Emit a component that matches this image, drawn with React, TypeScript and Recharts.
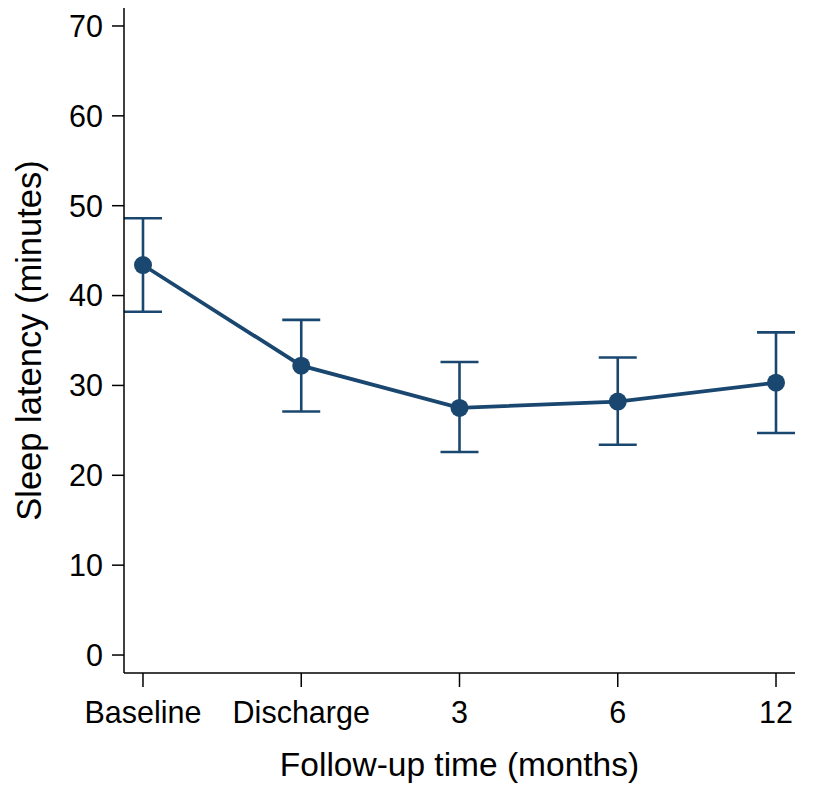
import { LineChart, Line, XAxis, YAxis, ErrorBar, Label } from 'recharts';

const timepoints = ['Baseline', 'Discharge', '3', '6', '12'];
const meanLatency = [43.4, 32.2, 27.5, 28.2, 30.3];
const upperCI = [48.6, 37.3, 32.6, 33.1, 35.9];
const lowerCI = [38.2, 27.1, 22.6, 23.4, 24.7];
const yTicks = [0, 10, 20, 30, 40, 50, 60, 70];

const NAVY = '#1a476f';
const FONT = '"Liberation Sans", Arial, sans-serif';

const data = timepoints.map((t, i) => ({
    idx: i,
    label: t,
    mean: meanLatency[i],
    err: [meanLatency[i] - lowerCI[i], upperCI[i] - meanLatency[i]]
}));

export default function App() {
    return (
        <div style={{ position: 'absolute', left: 0, top: 0, fontFamily: FONT }}>
            <LineChart
                width={827}
                height={792}
                data={data}
                margin={{ top: 8, right: 32, bottom: 59, left: 0 }}
            >
                <XAxis
                    dataKey="idx"
                    type="number"
                    domain={[-0.12, 4.12]}
                    ticks={[0, 1, 2, 3, 4]}
                    tickFormatter={(v: number) => timepoints[v]}
                    allowDataOverflow
                    height={60}
                    tickSize={14}
                    tickMargin={14}
                    axisLine={{ stroke: '#000', strokeWidth: 1.5 }}
                    tickLine={{ stroke: '#000', strokeWidth: 1.5 }}
                    tick={{ fill: '#000', fontSize: 30.5, fontFamily: FONT }}
                >
                    <Label
                        content={({ viewBox }: any) => (
                            <text
                                x={viewBox.x + viewBox.width / 2}
                                y={776}
                                textAnchor="middle"
                                fontSize={33.5}
                                fontFamily={FONT}
                                fill="#000"
                            >
                                Follow-up time (months)
                            </text>
                        )}
                    />
                </XAxis>
                <YAxis
                    type="number"
                    domain={[-2, 72]}
                    ticks={yTicks}
                    allowDataOverflow
                    width={124}
                    tickSize={12}
                    tickMargin={9}
                    axisLine={{ stroke: '#000', strokeWidth: 1.5 }}
                    tickLine={{ stroke: '#000', strokeWidth: 1.5 }}
                    tick={{ fill: '#000', fontSize: 30.5, fontFamily: FONT }}
                >
                    <Label
                        content={({ viewBox }: any) => {
                            const cy = viewBox.y + viewBox.height / 2;
                            return (
                                <text
                                    x={41}
                                    y={cy}
                                    transform={`rotate(-90 41 ${cy})`}
                                    textAnchor="middle"
                                    fontSize={34.5}
                                    fontFamily={FONT}
                                    fill="#000"
                                >
                                    Sleep latency (minutes)
                                </text>
                            );
                        }}
                    />
                </YAxis>
                <Line
                    dataKey="mean"
                    stroke={NAVY}
                    strokeWidth={3.8}
                    dot={{ r: 9, fill: NAVY, stroke: NAVY, strokeWidth: 0 }}
                    activeDot={false}
                    isAnimationActive={false}
                >
                    <ErrorBar
                        dataKey="err"
                        direction="y"
                        width={19}
                        stroke={NAVY}
                        strokeWidth={2.6}
                        isAnimationActive={false}
                    />
                </Line>
            </LineChart>
        </div>
    );
}
